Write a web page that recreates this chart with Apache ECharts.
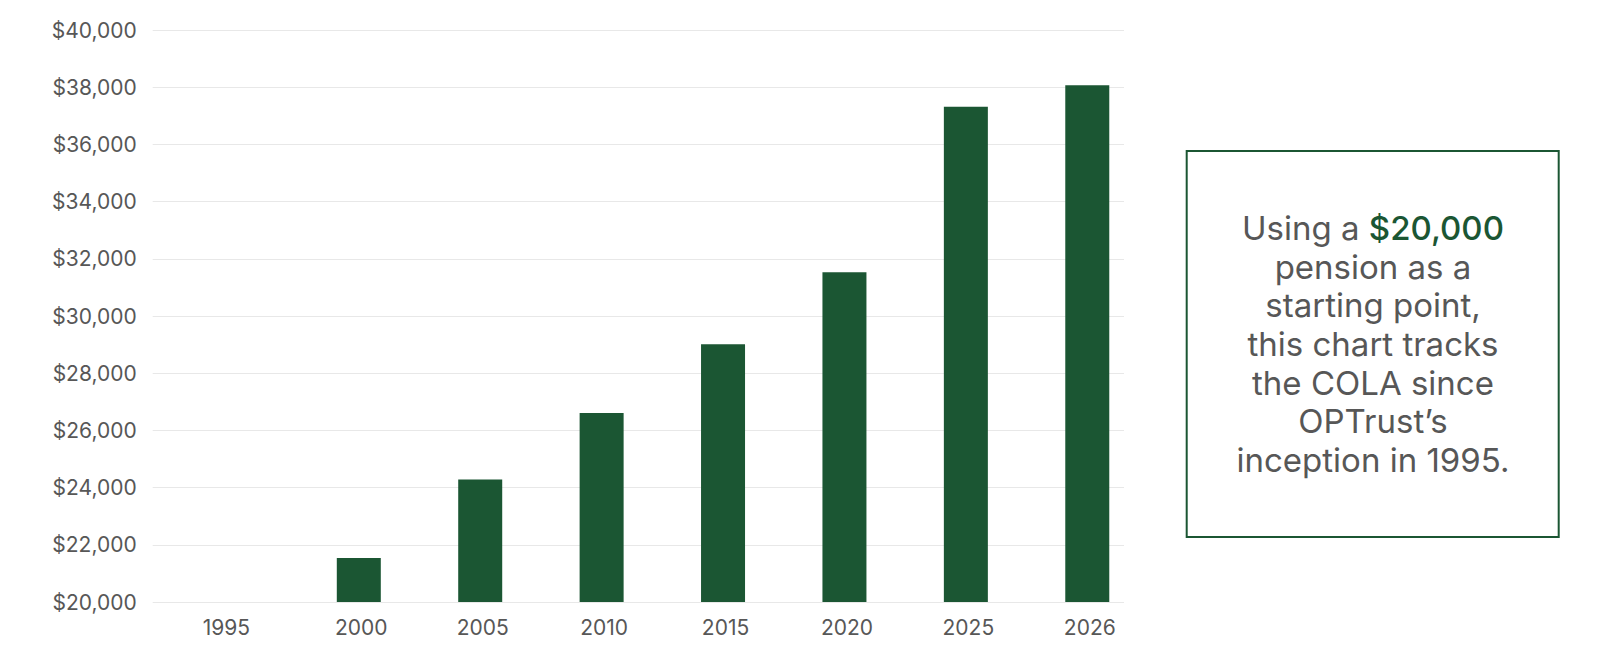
<!DOCTYPE html>
<html>
<head>
<meta charset="utf-8">
<script src="https://cdn.jsdelivr.net/npm/echarts@6/dist/echarts.min.js"></script>
<style>
html,body{margin:0;padding:0;background:#fff;}
#c{width:1599px;height:650px;}
</style>
</head>
<body>
<div id="c"></div>
<script>
var years = ['1995','2000','2005','2010','2015','2020','2025','2026'];
var values = [20000, 21540, 24280, 26610, 29010, 31530, 37320, 38070];
var yMin = 20000, yMax = 40000, yStep = 2000;
var noteLines = [
  ['Using a ', '$20,000'],
  ['pension as a'],
  ['starting point,'],
  ['this chart tracks'],
  ['the COLA since'],
  ['OPTrust\u2019s'],
  ['inception in 1995.']
];

var GREEN = '#1b5633';
var GREY = '#575757';
var FONT = 'Inter';

var noteText = noteLines.map(function(l){
  var s = '{t|' + l[0] + '}';
  if (l[1]) s += '{h|' + l[1] + '}';
  return s;
}).join('\n');

var chart = echarts.init(document.getElementById('c'), null, {renderer:'svg'});
chart.setOption({
  animation: false,
  grid: {left: 152.7, right: 475, top: 30, bottom: 48, containLabel: false},
  xAxis: {
    type: 'category',
    data: years,
    axisLine: {show: false},
    axisTick: {show: false},
    axisLabel: {
      margin: 13,
      color: GREY,
      fontFamily: FONT,
      fontSize: 21,
      formatter: function(v, i){ return (i === 0 ? '{f|' : '{n|') + v + '}'; },
      rich: {
        f: {padding: [0,0,0,26], color: GREY, fontFamily: FONT, fontSize: 21, lineHeight: 25},
        n: {padding: [0,0,0,53], color: GREY, fontFamily: FONT, fontSize: 21, lineHeight: 25}
      }
    }
  },
  yAxis: {
    type: 'value',
    min: yMin, max: yMax, interval: yStep,
    axisLine: {show: false},
    axisTick: {show: false},
    splitLine: {lineStyle: {color: '#e8e8e8', width: 1}},
    axisLabel: {
      margin: 16,
      color: GREY,
      fontFamily: FONT,
      fontSize: 21,
      formatter: function(v){ return '$' + v.toLocaleString('en-US'); }
    }
  },
  series: [
    {type: 'bar', name: 'spacer', data: years.map(function(){ return null; }), barWidth: 44, barGap: '9%', silent: true},
    {type: 'bar', name: 'Pension', data: values, barWidth: 44, barGap: '9%',
     itemStyle: {color: GREEN}}
  ],
  graphic: [
    {type: 'rect', shape: {x: 1186.7, y: 151, width: 372, height: 386},
     style: {fill: '#fff', stroke: GREEN, lineWidth: 2}},
    {type: 'text', x: 1373, y: 344,
     style: {
       text: noteText,
       align: 'center', verticalAlign: 'middle',
       fontFamily: FONT, fontSize: 33, lineHeight: 38.7, fill: GREY,
       rich: {
         t: {fontFamily: FONT, fontSize: 33, lineHeight: 38.7, fill: GREY, color: GREY},
         h: {fontFamily: FONT, fontSize: 33, lineHeight: 38.7, fill: GREEN, color: GREEN, fontWeight: 500}
       }
     }}
  ]
});
</script>
</body>
</html>
